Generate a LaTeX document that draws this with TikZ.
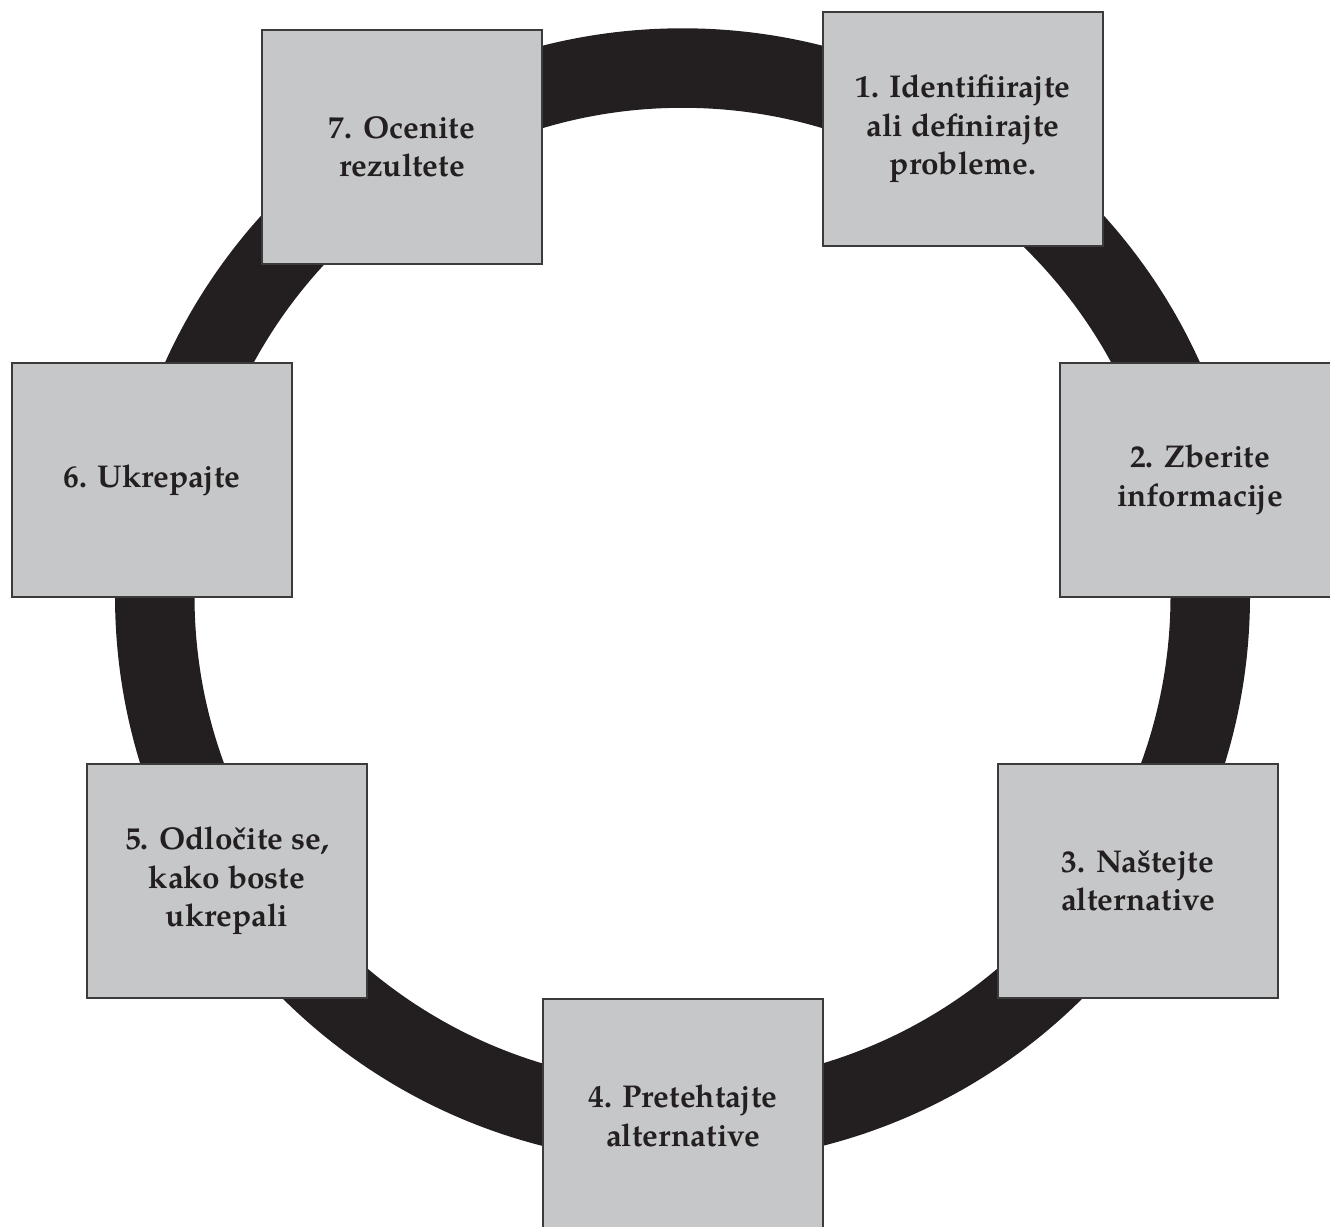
\documentclass[tikz,border=0pt]{standalone}
\usepackage{fontspec}
\setmainfont{TeX Gyre Pagella}
\definecolor{ringcol}{HTML}{231F20}
\definecolor{boxfill}{HTML}{C6C7C9}
\definecolor{boxline}{HTML}{3C3B3C}
\definecolor{txtcol}{HTML}{231F20}
\tikzset{
  stepbox/.style={rectangle, draw=boxline, line width=1.3pt, fill=boxfill,
    minimum width=280pt, minimum height=234pt, inner sep=0pt,
    align=center, text=txtcol,
    font=\fontsize{31.5}{38.5}\selectfont\bfseries}
}
\begin{document}
\begin{tikzpicture}[x=1pt,y=-1pt]
\useasboundingbox (0,0) rectangle (1330,1226);
\clip (0,0) rectangle (1330,1226);
\coordinate (c) at (682.5,595.8);
\fill[ringcol, even odd rule] (c) circle (567.5) (c) circle (488);
\node[stepbox] (s1) at (963,129) {1. Identifiirajte\\ali definirajte\\probleme.};
\node[stepbox] (s2) at (1200,480) {2. Zberite\\informacije};
\node[stepbox] (s3) at (1138,881) {3. Naštejte\\alternative};
\node[stepbox] (s4) at (683,1116) {4. Pretehtajte\\alternative};
\node[stepbox] (s5) at (227,881) {5. Odločite se,\\kako boste\\ukrepali};
\node[stepbox] (s6) at (152,480) {6. Ukrepajte};
\node[stepbox] (s7) at (402,147) {7. Ocenite\\rezultete};
\end{tikzpicture}
\end{document}
